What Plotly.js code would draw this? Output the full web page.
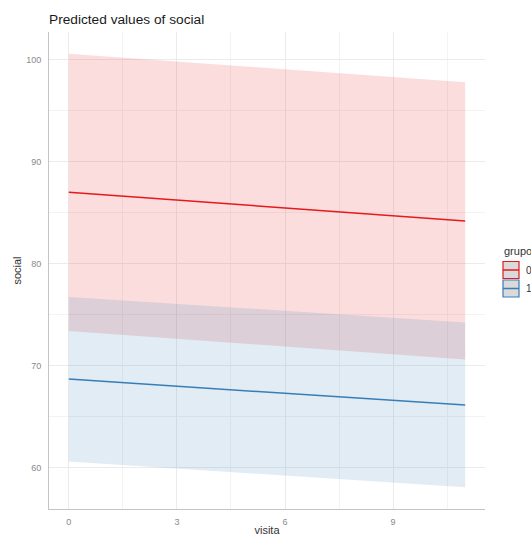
<!DOCTYPE html>
<html>
<head>
<meta charset="utf-8">
<script src="https://cdn.plot.ly/plotly-3.0.1.min.js"></script>
<style>
  html, body { margin: 0; padding: 0; background: #fff; }
  #chart { width: 531px; height: 540px; }
</style>
</head>
<body>
<div id="chart"></div>
<script>
// Predicted values of social by visita, one line + confidence band per grupo
const visita = [0, 11];

const grupo0Pred = [86.99, 84.18];
const grupo0Low  = [73.39, 70.61];
const grupo0High = [100.56, 97.75];

const grupo1Pred = [68.69, 66.14];
const grupo1Low  = [60.63, 58.09];
const grupo1High = [76.74, 74.23];

const groupLabels = ['0', '1'];
const xTicks = [0, 3, 6, 9];
const yTicks = [60, 70, 80, 90, 100];

const W = 531, H = 540;
const M = { l: 49, r: 46, t: 32, b: 31 };
const plotW = W - M.l - M.r, plotH = H - M.t - M.b;
const px = x => (x - M.l) / plotW;
const py = y => (H - M.b - y) / plotH;

const red = '#e41a1c', blue = '#377eb8';
const redFill = 'rgba(228,26,28,0.15)', blueFill = 'rgba(55,126,184,0.15)';

function band(lo, hi, fill) {
  return [
    { x: visita, y: lo, mode: 'lines', line: { width: 0, color: fill },
      showlegend: false, hoverinfo: 'skip' },
    { x: visita, y: hi, mode: 'lines', line: { width: 0, color: fill },
      fill: 'tonexty', fillcolor: fill, showlegend: false, hoverinfo: 'skip' }
  ];
}

const traces = [
  ...band(grupo0Low, grupo0High, redFill),
  ...band(grupo1Low, grupo1High, blueFill),
  { x: visita, y: grupo0Pred, mode: 'lines', name: groupLabels[0],
    line: { color: red, width: 1.5 }, showlegend: false },
  { x: visita, y: grupo1Pred, mode: 'lines', name: groupLabels[1],
    line: { color: blue, width: 1.5 }, showlegend: false }
];

// ranges padded by 5% on both sides of the data extent
const allY = [...grupo0Low, ...grupo0High, ...grupo1Low, ...grupo1High];
const yMin = Math.min(...allY), yMax = Math.max(...allY);
const yPad = (yMax - yMin) * 0.05;
const xMin = Math.min(...visita), xMax = Math.max(...visita);
const xPad = (xMax - xMin) * 0.05;

const FAMILY = 'Liberation Sans, Arial, sans-serif';
const tickFont = { family: FAMILY, size: 9, color: '#8a8a8a' };
const titleFont = { family: FAMILY, size: 11, color: '#333333' };

// legend keys drawn as layout shapes
const keyColors = [red, blue];
const shapes = [];
const annotations = [
  { xref: 'paper', yref: 'paper', x: px(502), y: py(251), xanchor: 'left', yanchor: 'middle',
    text: 'grupo', showarrow: false, font: titleFont }
];
groupLabels.forEach((lab, i) => {
  const top = 261.5 + i * 18.5, bot = top + 17;
  shapes.push({ type: 'rect', xref: 'paper', yref: 'paper', layer: 'above',
    x0: px(503), x1: px(519), y0: py(bot), y1: py(top),
    fillcolor: '#dadada', line: { color: keyColors[i], width: 1.2 } });
  shapes.push({ type: 'line', xref: 'paper', yref: 'paper', layer: 'above',
    x0: px(503), x1: px(519), y0: py((top + bot) / 2), y1: py((top + bot) / 2),
    line: { color: keyColors[i], width: 1.5 } });
  annotations.push({ xref: 'paper', yref: 'paper', x: px(523.5), y: py((top + bot) / 2),
    xanchor: 'left', yanchor: 'middle', text: lab, showarrow: false,
    font: { family: FAMILY, size: 10, color: '#333333' } });
});

const layout = {
  width: W, height: H,
  margin: M,
  paper_bgcolor: '#fff', plot_bgcolor: '#fff',
  showlegend: false,
  title: { text: 'Predicted values of social', x: M.l / W, xref: 'container', xanchor: 'left',
    y: 1 - 19 / H, yref: 'container', yanchor: 'middle', pad: { l: 0, r: 0, t: 0, b: 0 },
    font: { family: FAMILY, size: 13.7, color: '#1a1a1a' } },
  xaxis: {
    range: [xMin - xPad, xMax + xPad], tickvals: xTicks, ticktext: xTicks.map(String),
    showgrid: true, gridcolor: '#ebebeb', gridwidth: 1,
    minor: { tickvals: [1.5, 4.5, 7.5, 10.5], showgrid: true, gridcolor: '#f3f3f3', gridwidth: 1 },
    zeroline: false, showline: true, linecolor: '#c4c4c4', linewidth: 1,
    ticks: '', ticklabelstandoff: 4, tickfont: tickFont,
    title: { text: 'visita', font: titleFont, standoff: 0 }
  },
  yaxis: {
    range: [yMin - yPad, yMax + yPad], tickvals: yTicks, ticktext: yTicks.map(String),
    showgrid: true, gridcolor: '#ebebeb', gridwidth: 1,
    minor: { tickvals: [65, 75, 85, 95], showgrid: true, gridcolor: '#f3f3f3', gridwidth: 1 },
    zeroline: false, showline: true, linecolor: '#c4c4c4', linewidth: 1,
    ticks: '', ticklabelstandoff: 5, tickfont: tickFont,
    title: { text: 'social', font: titleFont, standoff: 2 }
  },
  shapes: shapes,
  annotations: annotations
};

Plotly.newPlot('chart', traces, layout, { displayModeBar: false, staticPlot: true });
</script>
</body>
</html>
